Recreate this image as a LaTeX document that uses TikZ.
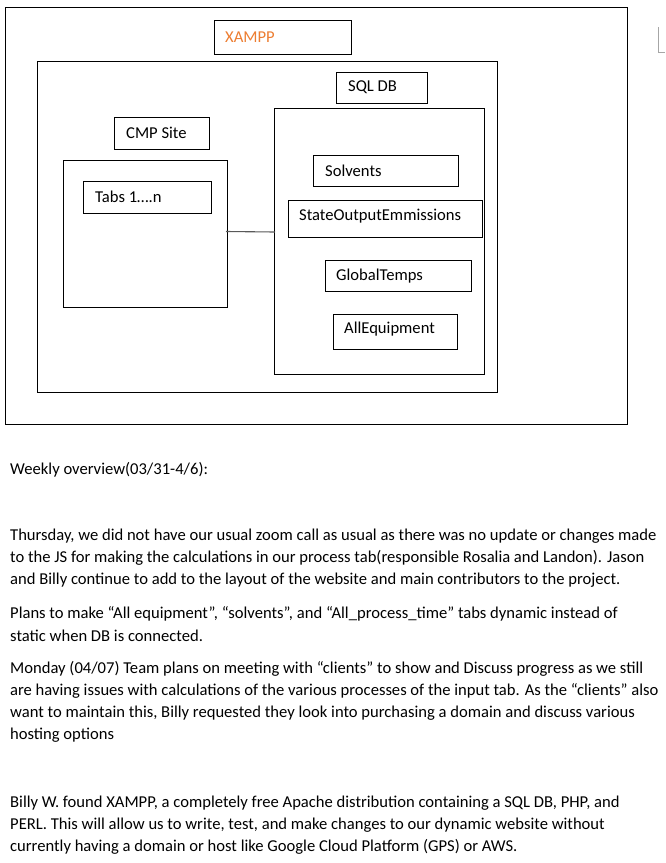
\documentclass[tikz,border=0pt]{standalone}
\usepackage{fontspec}
\setmainfont{Carlito}
\definecolor{xorange}{HTML}{ED7D31}
\definecolor{markgray}{HTML}{A6A6A6}
\begin{document}
\begin{tikzpicture}[x=1pt,y=-1pt,
  font=\fontsize{16.6}{22}\selectfont,
  frame/.style={draw=black,line width=1pt,fill=none},
  lbl/.style={anchor=west,inner sep=0pt},
  para/.style={anchor=west,inner sep=0pt}]
\useasboundingbox (0,0) rectangle (665,863);
\fill[white] (0,0) rectangle (665,863);
% boxes
\draw[frame] (5,7) rectangle (627,424);
\draw[frame] (214,20) rectangle (351,54);
\draw[frame] (37,61) rectangle (497,392);
\draw[frame] (336,72) rectangle (427,103);
\draw[frame] (274,108) rectangle (484,374);
\draw[frame] (114,117) rectangle (209,149);
\draw[frame] (63,160) rectangle (227,307);
\draw[frame] (83,181) rectangle (211,213);
\draw[frame] (313,155) rectangle (458,186);
\draw[frame] (288,200) rectangle (482,237);
\draw[frame] (325,260) rectangle (471,291);
\draw[frame] (333,314) rectangle (457,349);
% connector
\coordinate (cmpR) at (226,231.5);
\coordinate (sqlL) at (275,232);
\draw[line width=1.1pt,black!65] (cmpR) -- (sqlL);
% small mark
\draw[markgray,line width=0.9pt] (658,27) -- (658,52) -- (665,52);
% labels
\node[lbl,text=xorange] (xampp) at (225,37) {XAMPP};
\node[lbl] (sqldb) at (348,87.5) {SQL DB};
\node[lbl] (cmp) at (126,132.5) {CMP Site};
\node[lbl] (tabs) at (95,196.5) {Tabs 1….n};
\node[lbl] (solv) at (325,171) {Solvents};
\node[lbl] (state) at (299,216.5) {StateOutputEmmissions};
\node[lbl] (glob) at (336,276) {GlobalTemps};
\node[lbl] (alleq) at (344,329.5) {AllEquipment};
% text
\node[para] (p0) at (10,470) {Weekly overview(03/31-4/6):};
\node[para] (p1a) at (10,536) {Thursday, we did not have our usual zoom call as usual as there was no update or changes made};
\node[para] (p1b) at (10,558) {to the JS for making the calculations in our process tab(responsible Rosalia and Landon). Jason};
\node[para] (p1c) at (10,580) {and Billy continue to add to the layout of the website and main contributors to the project.};
\node[para] (p2a) at (10,614) {Plans to make “All equipment”, “solvents”, and “All\_process\_time” tabs dynamic instead of};
\node[para] (p2b) at (10,636) {static when DB is connected.};
\node[para] (p3a) at (10,669) {Monday (04/07) Team plans on meeting with “clients” to show and Discuss progress as we still};
\node[para] (p3b) at (10,691) {are having issues with calculations of the various processes of the input tab. As the “clients” also};
\node[para] (p3c) at (10,713) {want to maintain this, Billy requested they look into purchasing a domain and discuss various};
\node[para] (p3d) at (10,735) {hosting options};
\node[para] (p4a) at (10,803) {Billy W. found XAMPP, a completely free Apache distribution containing a SQL DB, PHP, and};
\node[para] (p4b) at (10,825) {PERL. This will allow us to write, test, and make changes to our dynamic website without};
\node[para] (p4c) at (10,847) {currently having a domain or host like Google Cloud Platform (GPS) or AWS.};
\end{tikzpicture}
\end{document}
